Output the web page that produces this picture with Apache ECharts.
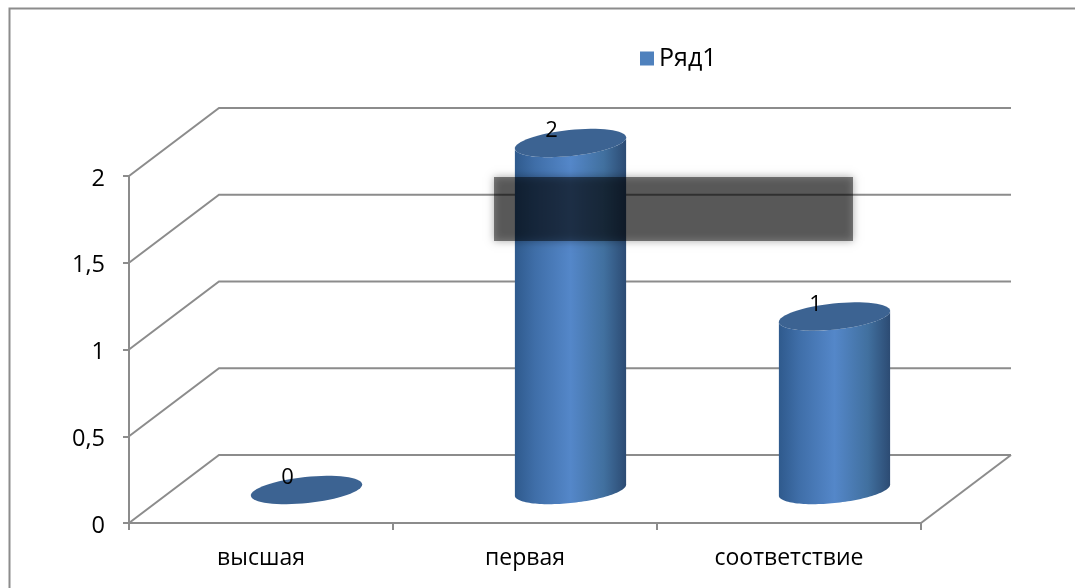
<!DOCTYPE html>
<html><head><meta charset="utf-8">
<style>html,body{margin:0;padding:0;background:#fff}#c{width:1075px;height:588px}</style>
<script src="https://cdn.jsdelivr.net/npm/echarts@6/dist/echarts.min.js"></script>
</head><body><div id="c"></div>
<script>
const categories = ['высшая', 'первая', 'соответствие'];
const seriesName = 'Ряд1';
const seriesValues = [0, 2, 1];
const yTicks = [0, 0.5, 1, 1.5, 2];

const DX = 90, DY = -68, GRID = '#8c8c8c', FONT = '"Open Sans","Noto Sans",sans-serif';
const chart = echarts.init(document.getElementById('c'));

function ellipsePts(cx, cy, a, b, rot, from, to) {
  const pts = [], n = 64, c = Math.cos(rot), s = Math.sin(rot);
  for (let i = 0; i <= n; i++) {
    const t = from + (to - from) * i / n, x = a * Math.cos(t), y = b * Math.sin(t);
    pts.push([cx + x * c + y * s, cy - x * s + y * c]);
  }
  return pts;
}

function renderWall(params, api) {
  const v = api.value(0), y = api.coord([0, v])[1], cs = params.coordSys;
  const children = [{
    type: 'polyline',
    shape: { points: [[cs.x, y], [cs.x + DX, y + DY], [cs.x + cs.width + DX, y + DY]] },
    style: { stroke: GRID, lineWidth: 2, fill: null }
  }];
  if (v === 0) children.push({
    type: 'line',
    shape: { x1: cs.x + cs.width, y1: y, x2: cs.x + cs.width + DX, y2: y + DY },
    style: { stroke: GRID, lineWidth: 2 }
  });
  return { type: 'group', children };
}

function renderCylinder(params, api) {
  const i = api.value(0), v = api.value(1);
  const top = api.coord([i, v]), base = api.coord([i, 0]);
  const a = api.size([1, 0])[0] * 0.212, b = 13, rot = 6 * Math.PI / 180;
  const cx = top[0] + DX / 2 + 0.5, ty = top[1] + DY / 2 + 1, by = base[1] + DY / 2 + 1;
  const children = [];
  if (v > 0) {
    const start = Math.atan2(-b * Math.sin(rot), a * Math.cos(rot));
    const bottomArc = ellipsePts(cx, by, a, b, rot, start, start + Math.PI);
    const topArc = ellipsePts(cx, ty, a, b, rot, start + Math.PI, start);
    children.push({
      type: 'polygon',
      shape: { points: bottomArc.concat(topArc) },
      style: {
        fill: new echarts.graphic.LinearGradient(0, 0, 1, 0, [
          { offset: 0, color: '#2f5a8d' },
          { offset: 0.18, color: '#3f6ea8' },
          { offset: 0.5, color: '#5487c9' },
          { offset: 0.8, color: '#41709f' },
          { offset: 1, color: '#2c4b73' }
        ])
      }
    });
  }
  children.push({
    type: 'polygon',
    shape: { points: ellipsePts(cx, ty, a, b, rot, 0, Math.PI * 2) },
    style: { fill: '#3c6392' }
  });
  children.push({
    type: 'text',
    style: {
      x: cx - 19, y: ty - 12, text: String(v), fill: '#000',
      font: '22px ' + FONT, align: 'center', verticalAlign: 'middle'
    }
  });
  return { type: 'group', children };
}

chart.setOption({
  animation: false,
  backgroundColor: '#fff',
  grid: { left: 129, right: 154, top: 176, bottom: 65 },
  legend: {
    data: [seriesName], left: 635, top: 41, itemWidth: 14, itemHeight: 14, itemGap: 11,
    icon: 'rect', textStyle: { fontFamily: FONT, fontSize: 25, color: '#000' }
  },
  xAxis: {
    type: 'category', data: categories,
    axisLine: { lineStyle: { color: GRID, width: 2 } },
    axisTick: { show: true, alignWithLabel: false, length: 7, lineStyle: { color: GRID, width: 2 } },
    axisLabel: { color: '#000', fontFamily: FONT, fontSize: 23, margin: 24 },
    splitLine: { show: false }
  },
  yAxis: {
    type: 'value', min: 0, max: 2, interval: 0.5,
    axisLine: { show: true, lineStyle: { color: GRID, width: 2 } },
    axisTick: { show: true, length: 6, lineStyle: { color: GRID, width: 2 } },
    axisLabel: {
      color: '#000', fontFamily: FONT, fontSize: 23.5, margin: 24,
      verticalAlign: 'top', lineHeight: 6,
      formatter: v => String(v).replace('.', ',')
    },
    splitLine: { show: false }
  },
  series: [
    { type: 'custom', z: 1, silent: true, data: yTicks.map(v => [v]), renderItem: renderWall, encode: { y: 0 } },
    {
      type: 'custom', name: seriesName, z: 3, silent: true,
      itemStyle: { color: '#4f81bd' },
      data: seriesValues.map((v, i) => [i, v]),
      encode: { x: 0, y: 1 }, renderItem: renderCylinder
    }
  ],
  graphic: [
    { type: 'polyline', z: 1, silent: true, shape: { points: [[9.5, 588], [9.5, 8.5], [1075, 8.5]] },
      style: { stroke: GRID, lineWidth: 2, fill: null } },
    { type: 'rect', z: 100, silent: true, shape: { x: 494, y: 177, width: 359, height: 64 },
      style: { fill: 'rgba(0,0,0,0.48)', shadowBlur: 8, shadowColor: 'rgba(0,0,0,0.7)' } }
  ]
});
</script></body></html>
